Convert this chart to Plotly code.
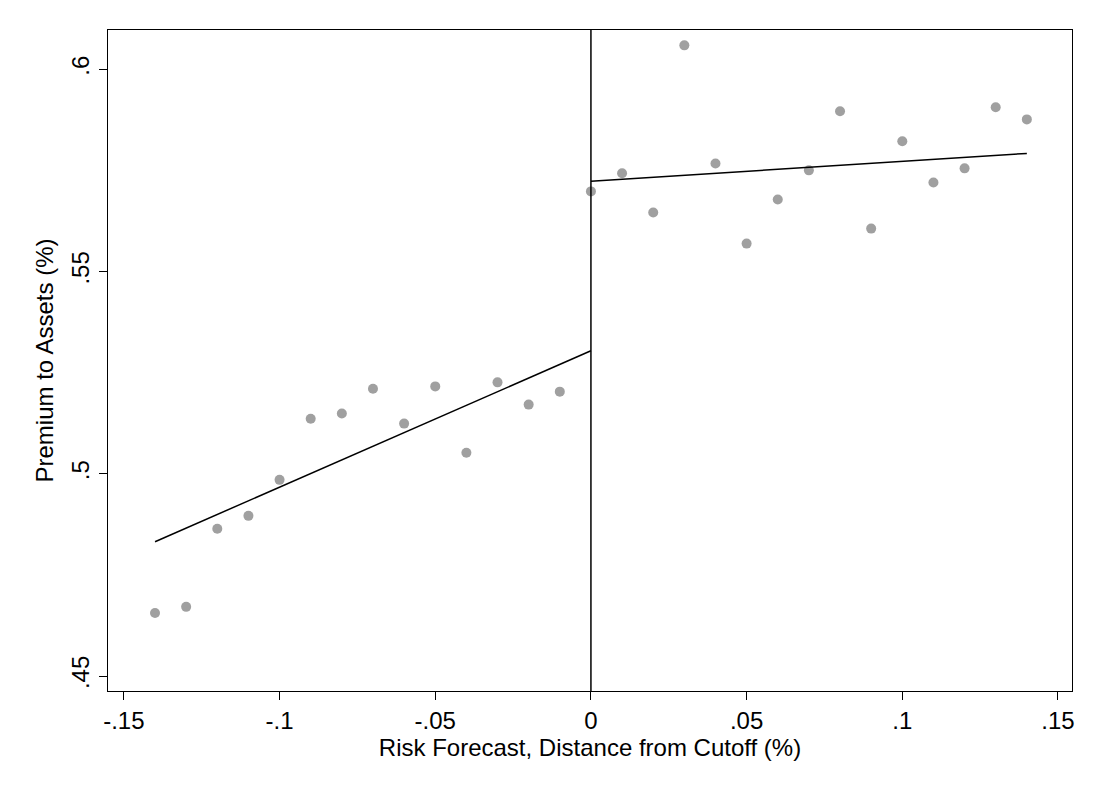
import plotly.graph_objects as go

# binned scatter
bin_x = [-0.14, -0.13, -0.12, -0.11, -0.10, -0.09, -0.08, -0.07, -0.06, -0.05, -0.04, -0.03, -0.02, -0.01,
         0.0, 0.01, 0.02, 0.03, 0.04, 0.05, 0.06, 0.07, 0.08, 0.09, 0.10, 0.11, 0.12, 0.13, 0.14]
bin_y = [0.4656, 0.4671, 0.4864, 0.4896, 0.4985, 0.5136, 0.5149, 0.5210, 0.5124, 0.5216, 0.5052, 0.5226, 0.5171, 0.5203,
         0.5698, 0.5743, 0.5646, 0.6059, 0.5767, 0.5569, 0.5678, 0.5750, 0.5896, 0.5606, 0.5822, 0.5720, 0.5755, 0.5906, 0.5876]

# fitted lines either side of the cutoff
left_x = [-0.14, 0.0]
left_y = [0.4832, 0.5304]
right_x = [0.0, 0.14]
right_y = [0.5723, 0.5792]

xticks = [-0.15, -0.1, -0.05, 0, 0.05, 0.1, 0.15]
xlabels = ["-.15", "-.1", "-.05", "0", ".05", ".1", ".15"]
yticks = [0.45, 0.5, 0.55, 0.6]
ylabels = [".45", ".5", ".55", ".6"]

fig = go.Figure()
fig.add_trace(go.Scatter(x=bin_x, y=bin_y, mode="markers",
                         marker=dict(color="#a0a0a0", size=10)))
fig.add_trace(go.Scatter(x=left_x, y=left_y, mode="lines", line=dict(color="black", width=1.5)))
fig.add_trace(go.Scatter(x=right_x, y=right_y, mode="lines", line=dict(color="black", width=1.5)))
fig.add_vline(x=0, line=dict(color="black", width=1.5))

axis = dict(showgrid=False, zeroline=False, showline=True, linecolor="black", linewidth=1.2,
            mirror=True, ticks="outside", ticklen=8, tickcolor="black",
            tickfont=dict(size=24, color="black"))
fig.update_layout(
    width=1100, height=800, showlegend=False,
    paper_bgcolor="white", plot_bgcolor="white",
    font=dict(family="Liberation Sans, Arial", color="black"),
    margin=dict(l=100, r=36, t=22, b=117),
    xaxis=dict(axis, range=[-0.1551, 0.1545], tickvals=xticks, ticktext=xlabels,
               title=dict(text="Risk Forecast, Distance from Cutoff (%)", font=dict(size=24), standoff=6)),
    yaxis=dict(axis, range=[0.4463, 0.6097], tickvals=yticks, ticktext=ylabels, tickangle=-90,
               title=dict(text="Premium to Assets (%)", font=dict(size=24), standoff=6)),
)
fig.write_html("out.html")
